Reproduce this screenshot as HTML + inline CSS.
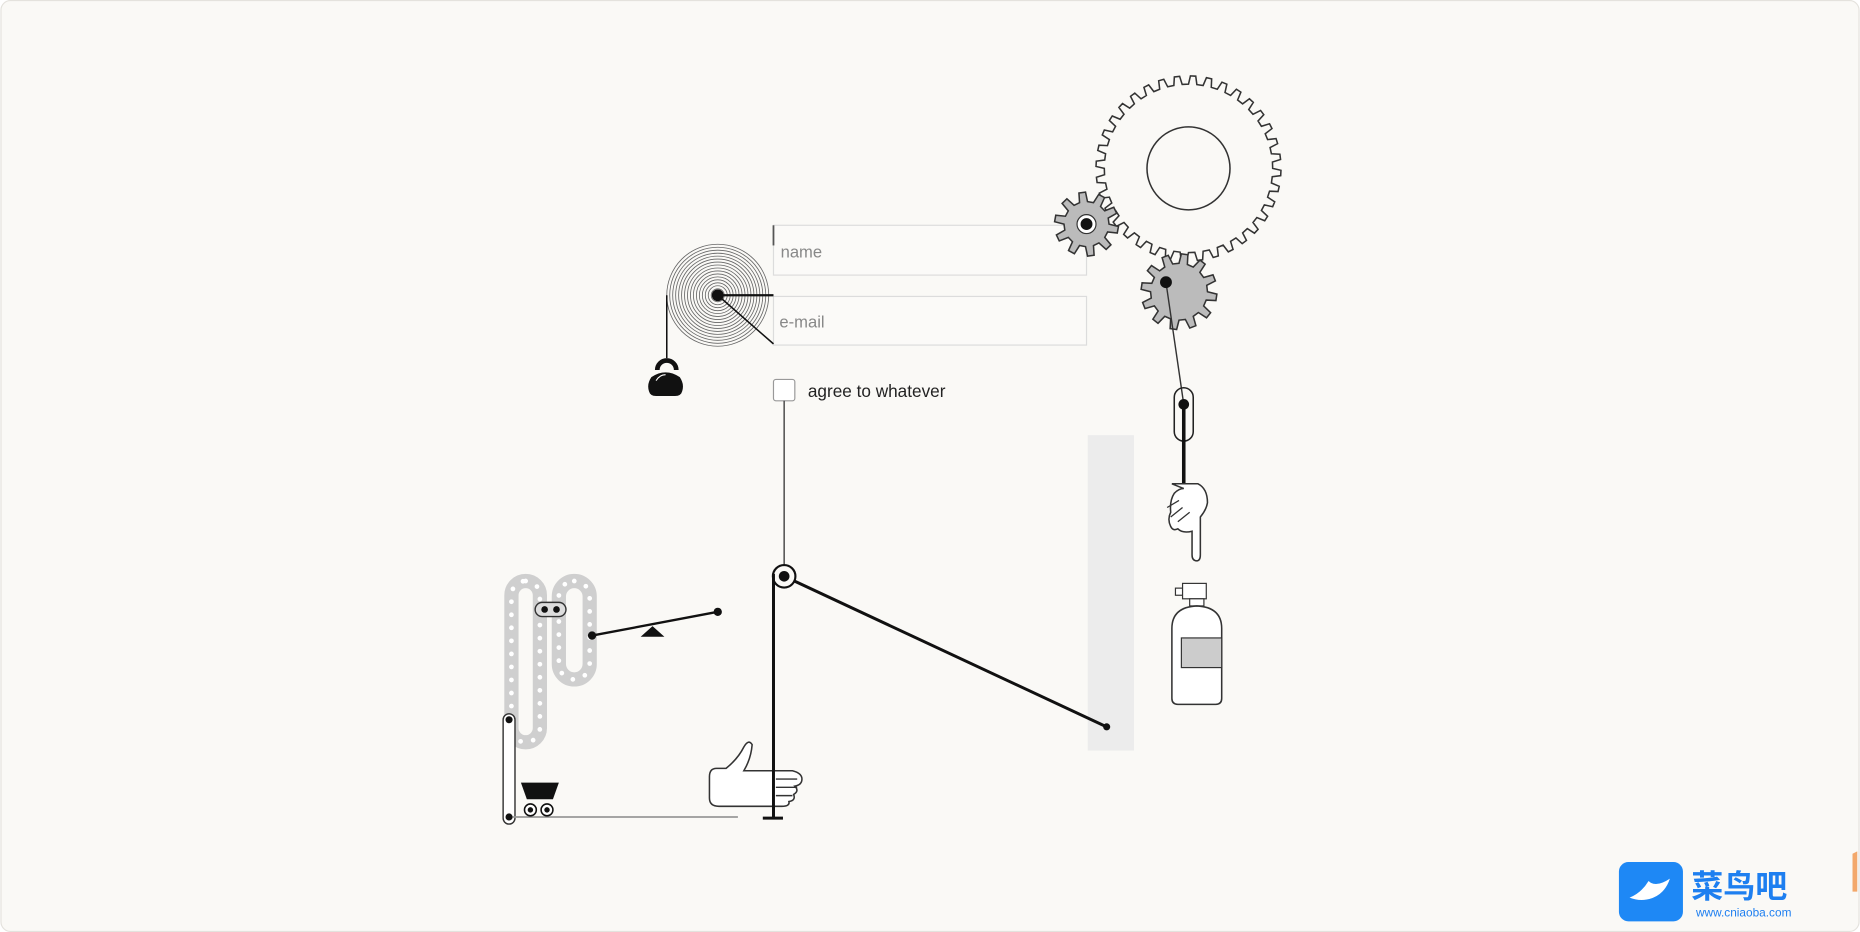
<!DOCTYPE html>
<html><head><meta charset="utf-8"><style>
html,body{margin:0;padding:0;background:#fff;}
svg{display:block}
</style></head><body>
<svg id="s" width="1860" height="932" viewBox="0 0 1568 786" xmlns="http://www.w3.org/2000/svg" font-family="Liberation Sans, sans-serif">
<rect x="0.5" y="0.5" width="1567" height="785" rx="8" fill="#faf9f6" stroke="#e4e2dd"/>
<rect x="917" y="367" width="39" height="266" fill="#ececec"/>
<rect x="652" y="190" width="264" height="42" fill="#fbfaf8" stroke="#dcdcdc"/>
<line x1="652" y1="190" x2="652" y2="207" stroke="#555" stroke-width="1.5"/>
<text x="658" y="217" font-size="14" fill="#888">name</text>
<rect x="652" y="250" width="264" height="41" fill="#fbfaf8" stroke="#dcdcdc"/>
<text x="657" y="276" font-size="14" fill="#888">e-mail</text>
<rect x="652" y="320" width="18" height="18" rx="2" fill="#fff" stroke="#999"/>
<text x="681" y="335" font-size="14.5" fill="#222">agree to whatever</text>
<g id="spiral" fill="none" stroke="#666" stroke-width="0.7"></g>
<line x1="605" y1="249" x2="652" y2="249" stroke="#111" stroke-width="1.8"/>
<line x1="605" y1="249" x2="652" y2="290" stroke="#111" stroke-width="1.3"/>
<circle cx="605" cy="249" r="5" fill="#111"/>
<line x1="562" y1="249" x2="562" y2="302" stroke="#111" stroke-width="1.3"/>
<path d="M554 312 a8 8 0 0 1 16 0" fill="none" stroke="#111" stroke-width="4"/>
<path d="M549 318 q12 -8 24 0 q4 6 2 12 q-1 4 -6 4 l-16 0 q-5 0 -6 -4 q-2 -6 2 -12z" fill="#111"/>
<path d="M553 321 q3 -5 8 -5" stroke="#fff" stroke-width="1" fill="none"/>
<line x1="661" y1="338" x2="661" y2="486" stroke="#444" stroke-width="1.2"/>
<line x1="652" y1="484" x2="652" y2="690" stroke="#111" stroke-width="2.5"/>
<line x1="643" y1="690" x2="660" y2="690" stroke="#111" stroke-width="2.5"/>
<line x1="661" y1="486" x2="933" y2="613" stroke="#111" stroke-width="2.5"/>
<circle cx="661" cy="486" r="9.5" fill="#faf9f6" stroke="#111" stroke-width="1.8"/>
<circle cx="661" cy="486" r="4.5" fill="#111"/>
<circle cx="933" cy="613" r="3" fill="#111"/>
<path d="M604 648 L612 648 Q622 640 627 630 Q631 623 634 628 Q633 640 627 650 L668 650 Q676 652 676 657 Q676 662 670 663 Q674 667 669 670 Q671 675 665 676 Q666 680 659 680 L606 680 Q598 680 598 673 L598 655 Q598 648 604 648 Z" fill="#fff" stroke="#333" stroke-width="1.3"/>
<line x1="652" y1="484" x2="652" y2="690" stroke="#111" stroke-width="2.5"/>
<g stroke="#333" stroke-width="1.2"><line x1="654" y1="657" x2="672" y2="657"/><line x1="654" y1="664" x2="672" y2="664"/><line x1="654" y1="671" x2="668" y2="671"/></g>
<g fill="none">
<rect x="431" y="490" width="24" height="136" rx="12" stroke="#cfcfcf" stroke-width="12"/>
<rect x="471" y="490" width="26" height="83" rx="13" stroke="#cfcfcf" stroke-width="12"/>
<rect x="431" y="490" width="24" height="136" rx="12" stroke="#fff" stroke-width="4" stroke-dasharray="0 11" stroke-linecap="round"/>
<rect x="471" y="490" width="26" height="83" rx="13" stroke="#fff" stroke-width="4" stroke-dasharray="0 11" stroke-linecap="round"/>
</g>
<rect x="451" y="508" width="26" height="12" rx="6" fill="#ddd" stroke="#333" stroke-width="1.2"/>
<circle cx="459" cy="514" r="2.8" fill="#111"/><circle cx="469" cy="514" r="2.8" fill="#111"/>
<line x1="499" y1="536" x2="605" y2="516" stroke="#111" stroke-width="2"/>
<circle cx="499" cy="536" r="3.5" fill="#111"/><circle cx="605" cy="516" r="3.5" fill="#111"/>
<path d="M540 537 L560 537 L550 528 Z" fill="#111"/>
<rect x="424" y="602" width="10" height="93" rx="5" fill="#fff" stroke="#333" stroke-width="1.2"/>
<circle cx="429" cy="607" r="3" fill="#111"/><circle cx="429" cy="689" r="3" fill="#111"/>
<line x1="432" y1="689" x2="622" y2="689" stroke="#999" stroke-width="1.5"/>
<path d="M439 660 L471 660 L466 674 L444 674 Z" fill="#111"/>
<circle cx="447" cy="683" r="5" fill="#fff" stroke="#111" stroke-width="1.3"/><circle cx="447" cy="683" r="2.3" fill="#111"/>
<circle cx="461" cy="683" r="5" fill="#fff" stroke="#111" stroke-width="1.3"/><circle cx="461" cy="683" r="2.3" fill="#111"/>
<path id="g1" fill="none" stroke="#333" stroke-width="1.3"/>
<circle cx="1002" cy="142" r="35" fill="none" stroke="#333" stroke-width="1.3"/>
<path id="g2" fill="#bbb" stroke="#333" stroke-width="1.3"/>
<circle cx="916" cy="189" r="8" fill="#fff" stroke="#333"/>
<circle cx="916" cy="189" r="5" fill="#111"/>
<path id="g3" fill="#bbb" stroke="#333" stroke-width="1.3"/>
<line x1="983" y1="238" x2="998" y2="341" stroke="#333" stroke-width="1.2"/>
<circle cx="983" cy="238" r="5" fill="#111"/>
<rect x="990" y="327" width="16" height="45" rx="8" fill="none" stroke="#222" stroke-width="1.3"/>
<line x1="998" y1="341" x2="998" y2="408" stroke="#111" stroke-width="3"/>
<circle cx="998" cy="341" r="4.5" fill="#111"/>
<path d="M988 408 L1010 408 q8 4 8 16 q-1 6 -6 12 l0 32 q0 5 -3 5 q-4 0 -4 -5 l0 -20 q-8 2 -12 -2 q-4 2 -6 -2 q-3 -6 0 -12 q-1 -10 3 -16 q4 -4 8 -4 z" fill="#fff" stroke="#333" stroke-width="1.3"/>
<path d="M984 428 l10 -6 M987 436 l10 -8 M993 440 l10 -8" stroke="#333" stroke-width="1.1"/>
<rect x="991" y="496" width="6" height="6" fill="#fff" stroke="#333"/>
<rect x="997" y="492" width="20" height="13" fill="#fff" stroke="#333"/>
<rect x="1003" y="505" width="12" height="6" fill="#fff" stroke="#333"/>
<path d="M988 530 q0 -18 21 -19 q21 1 21 19 l0 59 q0 5 -5 5 l-32 0 q-5 0 -5 -5 z" fill="#fff" stroke="#333" stroke-width="1.3"/>
<rect x="996" y="538" width="34" height="25" fill="#ccc" stroke="#333"/>
<rect x="1365" y="727" width="54" height="50" rx="8" fill="#1e88f5"/>
<path d="M1374 757 q10 -4 16 -14 q6 6 18 -2 q-4 12 -14 16 q-10 4 -20 0z" fill="#fff"/>
<text x="1426" y="757" font-size="27" font-weight="bold" fill="#1e7ff0" font-family="Noto Sans CJK SC, sans-serif">菜鸟吧</text>
<text x="1430" y="773" font-size="10" fill="#1e7ff0">www.cniaoba.com</text>
<path d="M1562 720 l4 -2 l0 34 l-4 0z" fill="#f3a86b"/>
</svg>
<script>
function gear(cx,cy,ro,ri,n){
 var d="",step=Math.PI*2/n;
 for(var i=0;i<n;i++){
  var a=i*step;
  var pts=[[ri,a],[ro,a+step*0.12],[ro,a+step*0.45],[ri,a+step*0.57]];
  pts.forEach(function(p,j){var x=cx+p[0]*Math.cos(p[1]),y=cy+p[0]*Math.sin(p[1]);d+=(i==0&&j==0?"M":"L")+x.toFixed(2)+" "+y.toFixed(2)+" ";});
 }
 return d+"Z";
}
document.getElementById("g1").setAttribute("d",gear(1002,142,78,71,36));
document.getElementById("g2").setAttribute("d",gear(916,189,27,19,10));
document.getElementById("g3").setAttribute("d",gear(994,246,32,24,12));
var sp=document.getElementById("spiral"),h="";
for(var r=43;r>5;r-=2.5)h+='<circle cx="605" cy="249" r="'+r+'"/>';
sp.innerHTML=h;
</script>
</body></html>
